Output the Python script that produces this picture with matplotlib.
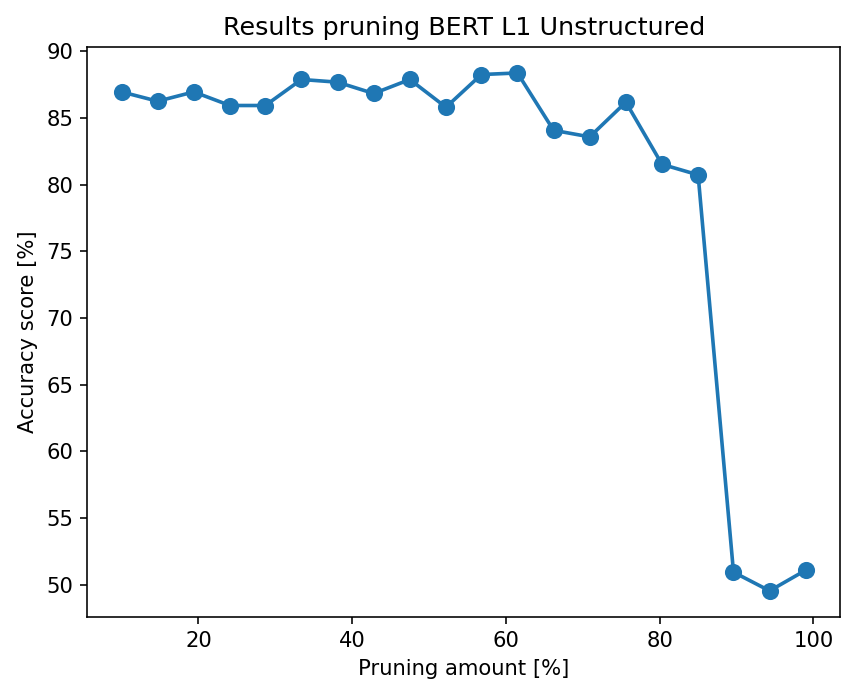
import matplotlib
matplotlib.use('Agg')
import matplotlib.pyplot as plt

# 剪枝比例 (%)
pruning_amount = [10.0, 14.7, 19.4, 24.1, 28.7, 33.4, 38.1, 42.8, 47.5, 52.2,
                  56.8, 61.5, 66.2, 70.9, 75.6, 80.3, 85.0, 89.6, 94.3, 99.0]
# 准确率 (%)
accuracy = [86.95, 86.25, 86.95, 85.93, 85.93, 87.88, 87.68, 86.83, 87.88, 85.8,
            88.25, 88.37, 84.07, 83.58, 86.18, 81.52, 80.73, 50.95, 49.55, 51.1]

plt.rcParams['font.size'] = 10.5

fig = plt.figure(figsize=(843 / 145, 682 / 145), dpi=145)
ax = fig.add_axes([0.1036, 0.0957, 0.8928, 0.8353])

ax.plot(pruning_amount, accuracy, marker='o', markersize=7.5, linewidth=1.8)

ax.set_title('Results pruning BERT L1 Unstructured')
ax.set_xlabel('Pruning amount [%]')
ax.set_ylabel('Accuracy score [%]')

fig.savefig('out.png', dpi=145)
